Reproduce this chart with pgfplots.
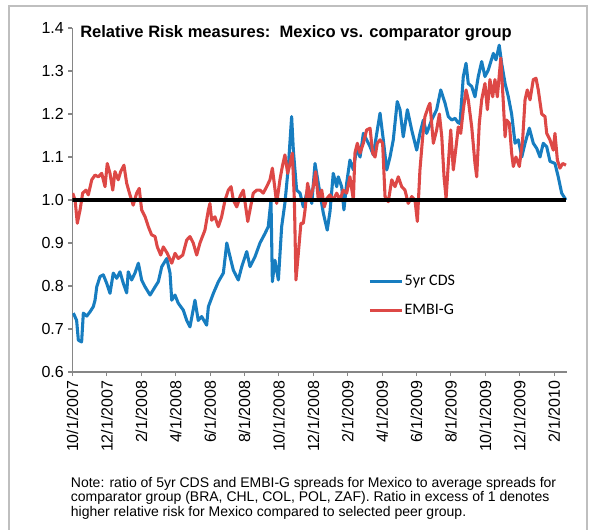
\documentclass[border=0pt]{standalone}
\usepackage{fontspec}
\setmainfont{Liberation Sans}
\newfontfamily\legfont{Carlito}
\usepackage{pgfplots}
\pgfplotsset{compat=1.18}
\definecolor{cdsblue}{RGB}{23,125,192}
\definecolor{embired}{RGB}{221,72,70}
\definecolor{framegray}{RGB}{191,191,191}
\definecolor{axisgray}{RGB}{134,134,134}

\begin{document}
\begin{tikzpicture}
% page = 593 x 529 px, 1 px = 0.75pt
\useasboundingbox (0,0) rectangle (444.75pt,-396.75pt);
\draw[framegray, line width=1pt] (6.75pt,-4.5pt) rectangle (440.25pt,-430pt);

\begin{axis}[
    at={(54.375pt,-279pt)}, anchor=south west,
    width=370.875pt, height=258pt, scale only axis,
    xmin=0, xmax=28.75, ymin=0.6, ymax=1.4,
    axis x line=bottom, axis y line=left,
    axis line style={-, draw=axisgray, line width=1pt},
    tick align=outside, major tick length=3pt,
    tick style={draw=axisgray, line width=0.8pt},
    xtick={0,2,4,6,8,10,12,14,16,18,20,22,24,26,28},
    xticklabels={10/1/2007,12/1/2007,2/1/2008,4/1/2008,6/1/2008,8/1/2008,10/1/2008,12/1/2008,2/1/2009,4/1/2009,6/1/2009,8/1/2009,10/1/2009,12/1/2009,2/1/2010},
    xticklabel style={rotate=90, anchor=east, font=\fontsize{12}{14}\selectfont},
    ytick={0.6,0.7,0.8,0.9,1.0,1.1,1.2,1.3,1.4},
    yticklabel style={font=\fontsize{12}{14}\selectfont},
    /pgf/number format/.cd, fixed, fixed zerofill, precision=1, assume math mode=true,
    /pgfplots/.cd,
    legend style={draw=none, fill=none, at={(0.5976,0.290)}, anchor=north west,
        font=\legfont\fontsize{12}{14}\selectfont, row sep=9pt, inner sep=0pt,
        nodes={inner sep=1pt, text height=8.5pt, text depth=2.5pt}},
    legend cell align=left,
    legend image code/.code={\draw[#1, line width=2.3pt] (0pt,0pt) -- (24pt,0pt);},
    every axis plot/.append style={line join=round},
]

% 5yr CDS
\addplot[cdsblue, line width=2.3pt] coordinates {
(0.05,0.737)(0.24,0.72)(0.34,0.674)(0.53,0.67)(0.63,0.737)(0.83,0.73)(1.02,0.74)(1.21,0.752)(1.31,0.767)(1.41,0.798)
(1.60,0.822)(1.79,0.826)(1.99,0.806)(2.18,0.783)(2.37,0.83)(2.57,0.818)(2.76,0.833)(2.95,0.807)(3.15,0.784)(3.24,0.833)
(3.44,0.814)(3.63,0.83)(3.83,0.853)(4.02,0.814)(4.22,0.798)(4.51,0.779)(4.80,0.798)(4.99,0.81)(5.19,0.845)(5.48,0.864)
(5.67,0.83)(5.77,0.767)(5.96,0.779)(6.15,0.76)(6.44,0.744)(6.64,0.72)(6.83,0.705)(7.12,0.767)(7.31,0.72)(7.51,0.729)
(7.80,0.709)(7.90,0.752)(8.19,0.783)(8.48,0.81)(8.77,0.83)(8.97,0.9)(9.16,0.868)(9.35,0.837)(9.64,0.814)(9.84,0.845)
(10.13,0.88)(10.32,0.845)(10.61,0.868)(10.90,0.9)(11.19,0.922)(11.38,0.938)(11.54,1.0)(11.62,0.81)(11.77,0.86)(11.97,0.814)
(12.16,0.938)(12.35,0.993)(12.55,1.078)(12.74,1.194)(12.84,1.116)(13.03,1.023)(13.23,1.016)(13.42,0.984)(13.71,1.031)(13.91,0.992)
(14.10,1.085)(14.29,1.039)(14.58,0.97)(14.81,0.93)(14.97,0.973)(15.16,1.062)(15.36,1.031)(15.45,1.054)(15.65,1.031)(15.78,0.977)
(15.94,1.039)(16.13,1.093)(16.33,1.07)(16.52,1.12)(16.72,1.1)(16.91,1.155)(17.10,1.14)(17.30,1.124)(17.49,1.105)(17.69,1.155)
(17.88,1.202)(18.07,1.14)(18.27,1.07)(18.46,1.1)(18.65,1.14)(18.88,1.229)(19.04,1.21)(19.23,1.147)(19.47,1.21)(19.72,1.163)
(20.01,1.116)(20.20,1.155)(20.40,1.186)(20.59,1.155)(20.88,1.186)(21.17,1.21)(21.41,1.256)(21.66,1.225)(21.85,1.194)(22.05,1.186)
(22.24,1.19)(22.41,1.18)(22.53,1.178)(22.72,1.287)(22.88,1.318)(23.01,1.271)(23.21,1.264)(23.40,1.24)(23.59,1.287)(23.79,1.322)
(23.98,1.287)(24.17,1.302)(24.47,1.341)(24.62,1.326)(24.81,1.36)(24.95,1.318)(25.15,1.271)(25.34,1.24)(25.53,1.2)(25.73,1.132)
(25.92,1.14)(26.12,1.1)(26.31,1.132)(26.56,1.167)(26.79,1.132)(26.99,1.12)(27.18,1.1)(27.37,1.132)(27.57,1.124)(27.76,1.09)
(28.05,1.085)(28.24,1.054)(28.44,1.016)(28.69,1.0)
};
\addlegendentry{5yr CDS}

% EMBI-G
\addplot[embired, line width=2.3pt] coordinates {
(0.01,1.016)(0.15,1.0)(0.28,0.946)(0.44,0.977)(0.59,1.016)(0.78,1.023)(0.92,1.012)(1.12,1.047)(1.31,1.058)(1.50,1.054)
(1.70,1.062)(1.89,1.031)(2.02,1.085)(2.18,1.062)(2.34,1.023)(2.47,1.066)(2.66,1.047)(2.80,1.066)(2.99,1.081)(3.15,1.039)
(3.34,1.012)(3.53,0.988)(3.73,1.016)(3.88,1.027)(4.02,0.977)(4.22,0.961)(4.41,0.938)(4.60,0.919)(4.80,0.915)(4.93,0.891)
(5.13,0.872)(5.28,0.891)(5.51,0.876)(5.77,0.853)(5.96,0.876)(6.15,0.864)(6.41,0.872)(6.64,0.907)(6.83,0.915)(7.02,0.9)
(7.22,0.872)(7.41,0.9)(7.70,0.93)(7.90,0.977)(7.99,0.992)(8.09,0.953)(8.28,0.961)(8.48,0.938)(8.67,0.961)(8.87,1.0)
(9.06,1.023)(9.22,1.031)(9.35,1.0)(9.55,0.984)(9.74,1.008)(9.93,1.023)(10.19,0.95)(10.32,0.977)(10.51,1.016)(10.71,1.023)
(10.90,1.023)(11.09,1.016)(11.29,1.031)(11.48,1.047)(11.62,1.074)(11.73,1.039)(11.87,0.992)(12.06,1.047)(12.20,1.078)(12.35,1.105)
(12.51,1.062)(12.65,1.085)(12.78,1.109)(12.90,1.0)(12.99,0.814)(13.13,0.876)(13.28,0.946)(13.42,0.946)(13.52,0.977)(13.67,1.039)
(13.81,1.0)(14.00,1.031)(14.14,1.066)(14.29,1.0)(14.49,1.023)(14.64,0.984)(14.78,1.003)(14.97,1.012)(15.16,1.0)(15.36,1.016)
(15.55,1.0)(15.74,1.023)(15.94,1.016)(16.13,1.054)(16.33,1.0)(16.42,1.109)(16.56,1.132)(16.72,1.109)(16.91,1.132)(17.10,1.163)
(17.30,1.167)(17.45,1.109)(17.59,1.1)(17.72,1.132)(17.88,1.14)(18.03,1.132)(18.17,1.008)(18.36,0.996)(18.56,1.047)(18.75,1.031)
(18.94,1.054)(19.14,1.031)(19.33,1.023)(19.52,0.992)(19.72,1.008)(19.91,1.0)(20.05,0.95)(20.20,1.07)(20.36,1.147)(20.49,1.194)
(20.69,1.217)(20.78,1.225)(20.98,1.132)(21.17,1.163)(21.33,1.2)(21.47,1.147)(21.60,1.054)(21.72,1.004)(21.85,1.085)(21.99,1.163)
(22.14,1.07)(22.30,1.124)(22.43,1.17)(22.57,1.155)(22.72,1.21)(22.88,1.256)(23.01,1.233)(23.21,1.17)(23.40,1.085)(23.50,1.054)
(23.65,1.178)(23.79,1.233)(23.98,1.271)(24.12,1.21)(24.27,1.28)(24.43,1.24)(24.56,1.28)(24.70,1.24)(24.90,1.33)(25.05,1.225)
(25.15,1.147)(25.24,1.186)(25.40,1.178)(25.53,1.109)(25.63,1.078)(25.78,1.1)(25.98,1.078)(26.17,1.14)(26.31,1.233)(26.44,1.256)
(26.60,1.233)(26.79,1.28)(26.95,1.283)(27.08,1.256)(27.28,1.2)(27.47,1.194)(27.57,1.155)(27.76,1.14)(27.95,1.116)(28.05,1.155)
(28.19,1.093)(28.34,1.074)(28.50,1.085)(28.69,1.081)
};
\addlegendentry{EMBI-G}

% parity line
\addplot[black, line width=2.4pt, forget plot] coordinates {(0,1.0) (28.69,1.0)};
\end{axis}

\node[anchor=base west, inner sep=0pt, font=\bfseries\fontsize{12.4}{14}\selectfont]
    at (60pt,-28pt) {Relative Risk measures:\ \ Mexico vs. comparator group};

\node[anchor=north west, inner sep=0pt, align=left, font=\fontsize{10.5}{10.6}\selectfont]
    at (53pt,-358pt) {Note: ratio of 5yr CDS and EMBI-G spreads for Mexico to average spreads for\\
    comparator group (BRA, CHL, COL, POL, ZAF). Ratio in excess of 1 denotes\\
    higher relative risk for Mexico compared to selected peer group.};
\end{tikzpicture}
\end{document}
